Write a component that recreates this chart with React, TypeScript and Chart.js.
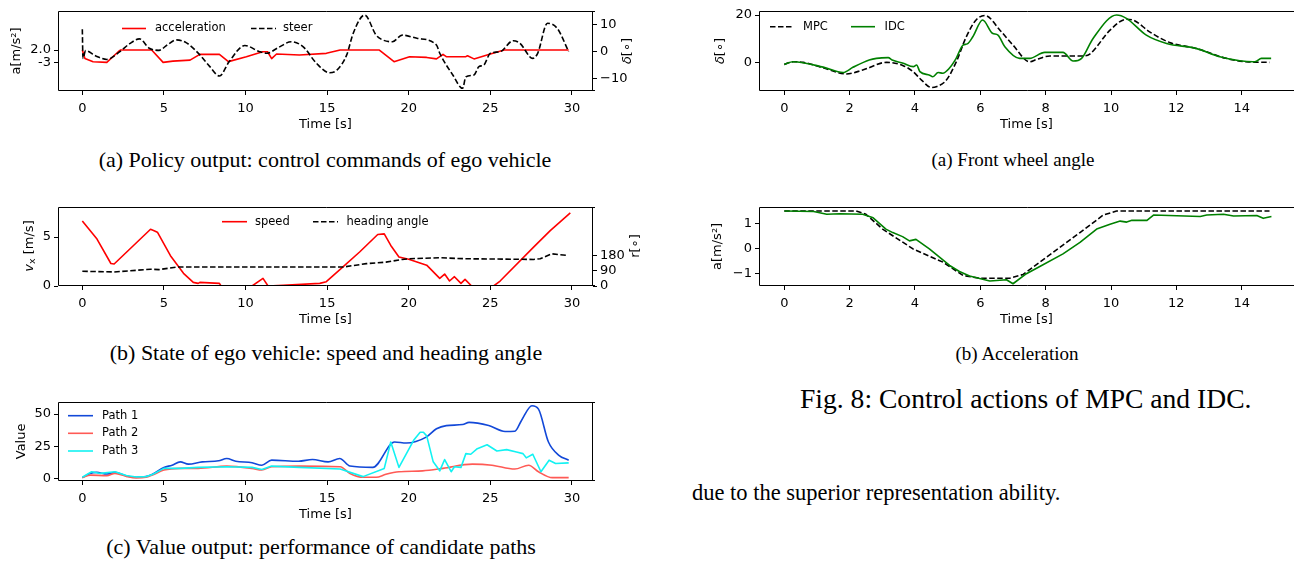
import { useEffect, useRef } from "react";
import { Chart, registerables } from "chart.js";

Chart.register(...registerables);

const SANS = "'DejaVu Sans', sans-serif";
const SERIF = "'Liberation Serif', 'Times New Roman', serif";

// ---------- (a) policy output ----------
const ACC_T = [0, 0.16, 0.66, 1.5, 2.2, 2.35, 4.25, 4.95, 5.55, 6.6, 7.2, 8.4, 8.95, 10.05, 11.05, 11.35, 11.6, 11.9, 13.3, 14.95, 15.8, 18.2, 19.1, 20.05, 21.1, 21.7, 22.1, 22.3, 23.5, 23.6, 24.0, 25.0, 25.85, 29.8];
const ACC = [2.0, -1.4, -2.75, -3.0, 1.3, 2.0, 2.0, -3.0, -2.5, -2.1, 0.25, 0.25, -2.7, -0.7, 1.3, 1.3, -1.5, 0.4, 0.0, 0.65, 2.0, 2.0, -2.75, -0.7, -1.0, -1.6, 0.25, -0.7, -0.7, -0.3, -1.6, 0.4, 2.0, 2.0];
const STEER_T = [0, 0.04, 0.2, 0.8, 1.5, 2.3, 2.9, 3.5, 4.1, 4.7, 5.2, 5.76, 6.36, 7.2, 7.8, 8.4, 9.0, 9.96, 10.86, 11.3, 12.0, 12.8, 13.52, 14.34, 15.16, 15.6, 16.2, 16.6, 17.3, 18.0, 18.4, 19.0, 19.6, 20.5, 21.7, 21.9, 22.7, 23.3, 23.5, 24.0, 24.3, 24.6, 25.0, 25.6, 26.4, 26.8, 27.6, 27.9, 28.5, 29.1, 29.8];
const STEER = [8.4, -2.5, 0.4, -1.5, -2.9, 0, 3.0, 4.8, 1.3, 0.5, 2.5, 4.4, 3.4, -1.2, -5.5, -9.1, -3.7, 2.3, 0, -0.6, 1.5, 3.7, 1.9, -4.3, -7.9, -6.9, -1.2, 6.9, 13.7, 6.2, 4.4, 3.7, 6.2, 5.0, 2.5, -0.6, -8.7, -13.7, -9.4, -8.7, -5.6, -5.0, -0.6, 0, 4.1, 3.2, -2.5, -0.6, 10.6, 8.7, 0];
const A_X_TICKS = [0, 5, 10, 15, 20, 25, 30];
const A_X_LABELS = ["0", "5", "10", "15", "20", "25", "30"];
const A_Y_TICKS = [-3, 2];
const A_Y_LABELS = ["-3", "2.0"];
const A_Y2_TICKS = [-10, 0, 10];
const A_Y2_LABELS = ["\u221210", "0", "10"];

// ---------- (b) state of ego vehicle ----------
const SPD_T = [0, 0.9, 1.75, 1.95, 4.18, 4.4, 4.6, 5.4, 6.2, 6.8, 7.1, 7.2, 8.4, 8.5, 10.4, 11.07, 11.38, 12.3, 14.55, 14.95, 15.97, 16.99, 18.1, 18.5, 18.9, 19.4, 20.0, 21.1, 21.9, 22.2, 22.5, 22.8, 23.2, 23.45, 23.85, 25.2, 25.6, 27.65, 28.67, 29.9];
const SPD = [6.65, 4.8, 2.3, 2.25, 5.8, 5.65, 5.5, 3.1, 1.3, 0.37, 0.27, 0.37, 0.27, 0, 0, 0.78, 0, 0.07, 0.27, 0.44, 1.96, 3.48, 5.27, 5.33, 4.15, 2.97, 2.73, 2.13, 0.78, 1.22, 0.51, 0.95, 0.27, 0.68, 0, 0, 0.51, 3.98, 5.67, 7.47];
const HEAD_T = [0, 1.94, 4.18, 4.7, 5.8, 14.55, 15.97, 17.4, 18.6, 19.6, 20.0, 21.9, 23.5, 27.65, 28.05, 28.77, 29.75];
const HEAD = [87, 83, 99, 97, 112, 112, 112, 132, 141, 157, 161, 167, 161, 157, 161, 190, 180];
const B_Y_TICKS = [0, 5];
const B_Y_LABELS = ["0", "5"];
const B_Y2_TICKS = [0, 90, 180];
const B_Y2_LABELS = ["0", "90", "180"];

// ---------- (c) value output ----------
const P1_T = [0, 0.47, 0.88, 1.5, 2.0, 2.7, 3.3, 3.9, 4.3, 5.0, 5.5, 6.0, 6.5, 7.35, 8.35, 8.85, 9.4, 10.4, 11.0, 11.6, 13.25, 14.1, 15.06, 15.77, 16.4, 17.8, 19.13, 19.85, 21.07, 21.7, 22.3, 23.3, 23.7, 24.9, 25.9, 26.5, 26.9, 27.55, 27.95, 28.56, 29.2, 29.8];
const P1 = [0.5, 3.8, 4.6, 3.3, 4.6, 1.8, 0.8, 1.3, 3.1, 8.4, 10.2, 12.8, 11, 12.8, 13.6, 15.4, 13.3, 12.1, 10.2, 14.1, 13.3, 14.6, 12.8, 15.4, 9.5, 8.5, 28.2, 27.4, 32, 38.5, 41, 41.8, 43.5, 41, 36.4, 36.6, 44.8, 56.4, 53.8, 28.2, 17.9, 14.1];
const P2_T = [0, 0.5, 1.5, 2.0, 2.7, 3.3, 3.9, 4.3, 5.0, 6.0, 7.1, 8.85, 10.4, 11.0, 11.6, 13.3, 15.8, 16.4, 17.2, 18.0, 18.6, 19.4, 20.85, 22.1, 23.9, 25.1, 26.5, 27.35, 27.95, 28.8, 29.8];
const P2 = [0.5, 2.5, 2.0, 3.8, 1.5, 0.3, 0.8, 2.6, 6.4, 7.7, 7.7, 9.5, 7.7, 6.4, 9, 9.5, 9, 3.8, 0.8, 0.8, 3.1, 5.1, 5.8, 7.7, 11, 10.2, 7.2, 10.2, 5.1, 0.5, 0.5];
const P3_T = [0, 0.57, 1.1, 2.0, 2.7, 3.3, 3.9, 4.3, 5.0, 6.0, 7.1, 8.85, 10.4, 11.0, 11.6, 13.3, 15.8, 17.2, 18.5, 18.9, 19.4, 20.3, 20.7, 20.9, 21.1, 21.5, 21.9, 22.2, 22.6, 22.8, 23.2, 23.5, 23.8, 24.2, 24.8, 25.4, 26.0, 26.6, 27.0, 27.2, 27.6, 28.1, 28.6, 29.0, 29.8];
const P3 = [0.8, 5.1, 3.8, 5.1, 2.2, 1.0, 1.3, 3.0, 7.7, 7.7, 8.5, 9, 8.5, 6.9, 9.5, 8.5, 7.2, 1.3, 7.7, 28.2, 8.5, 29.5, 35.8, 35.8, 33, 12.8, 5.8, 14.6, 5.1, 9, 8.5, 19.2, 18.7, 23, 26.1, 21.2, 22.3, 20.5, 19.2, 15.9, 18.7, 5.1, 14.1, 11.5, 12];
const C_Y_TICKS = [0, 25, 50];
const C_Y_LABELS = ["0", "25", "50"];

// ---------- Fig. 8 (a) front wheel angle ----------
const MPC_D_T = [0, 0.27, 0.58, 1.19, 1.9, 2.4, 3.13, 3.64, 3.94, 4.2, 4.5, 4.65, 4.96, 5.26, 5.57, 5.87, 6.15, 6.6, 7.0, 7.51, 7.72, 8.13, 9.15, 9.35, 9.97, 10.47, 10.67, 11.18, 11.79, 12.6, 13.52, 14.13, 14.85];
const MPC_D = [-0.85, 0.25, 0, -2.3, -4.9, -3.25, 0, -1.4, -3.9, -7.5, -10.6, -10.3, -7.5, 0.1, 10.8, 17.9, 19.8, 13.6, 7.3, 0.25, 1.2, 2.7, 2.7, 3.5, 13.6, 18.2, 17.9, 12.9, 8.4, 5.9, 1.7, 0.25, 0];
const IDC_D_T = [0, 0.27, 1.19, 1.8, 2.1, 2.6, 2.82, 3.18, 3.3, 3.64, 3.95, 4.05, 4.15, 4.45, 4.54, 4.71, 4.85, 5.05, 5.26, 5.47, 5.6, 5.77, 6.07, 6.37, 6.54, 6.75, 7.2, 7.51, 7.97, 8.53, 8.84, 9.1, 9.45, 10.17, 10.47, 11.08, 11.7, 12.6, 13.33, 13.94, 14.35, 14.45, 14.6, 14.9];
const IDC_D = [-0.85, 0.25, -2.0, -4.3, -2.1, 1.0, 1.7, 2.0, 1.0, -0.4, -1.8, -1.1, -3.9, -5.4, -6.1, -4.3, -4.6, -2.5, 1.7, 7.3, 7.8, 10.8, 17.9, 12.3, 11.5, 6.6, 1.7, 1.7, 4.2, 4.2, 0.55, 1.7, 10.1, 20, 18.6, 11.5, 8, 5.9, 2.4, 0.7, 0.25, 0.5, 1.7, 1.7];
const R_X_TICKS = [0, 2, 4, 6, 8, 10, 12, 14];
const R_X_LABELS = ["0", "2", "4", "6", "8", "10", "12", "14"];
const D_Y_TICKS = [0, 20];
const D_Y_LABELS = ["0", "20"];

// ---------- Fig. 8 (b) acceleration ----------
const MPC_A_T = [0, 2.2, 2.5, 3.01, 3.94, 4.86, 5.47, 5.98, 6.9, 7.31, 8.03, 9.05, 9.76, 10.17, 14.85];
const MPC_A = [1.49, 1.49, 1.36, 0.77, -0.02, -0.55, -1.08, -1.19, -1.19, -1.04, -0.35, 0.63, 1.33, 1.49, 1.49];
const IDC_A_T = [0, 0.9, 1.3, 1.7, 2.4, 2.72, 3.11, 3.32, 3.62, 3.83, 4.03, 4.44, 5.06, 5.36, 5.67, 5.98, 6.29, 6.8, 7.0, 7.41, 7.82, 8.53, 9.05, 9.56, 9.97, 10.28, 10.48, 10.64, 11.1, 11.3, 12.73, 12.93, 13.44, 13.75, 14.46, 14.66, 14.91];
const IDC_A = [1.49, 1.47, 1.36, 1.38, 1.36, 1.22, 0.77, 0.63, 0.47, 0.3, 0.36, -0.02, -0.68, -0.92, -1.1, -1.2, -1.3, -1.25, -1.41, -1.01, -0.72, -0.22, 0.24, 0.77, 0.96, 1.09, 1.05, 1.12, 1.12, 1.33, 1.27, 1.33, 1.36, 1.29, 1.31, 1.2, 1.27];
const E_Y_TICKS = [-1, 0, 1];
const E_Y_LABELS = ["\u22121", "0", "1"];

const pts = (xs: number[], ys: number[]) => xs.map((x, i) => ({ x, y: ys[i] }));

type Axis = { min: number; max: number; ticks: number[]; labels: string[]; title?: string; size: number };
type Seg = { t: string; italic?: boolean; sub?: boolean };
type RotTitle = { segs: Seg[]; x: number; y: number };
type Spec = {
  left: number; top: number; width: number; height: number;
  pad: { left: number; right: number; top: number; bottom: number };
  x: Axis; y: Axis; y2?: Axis;
  datasets: any[];
  legend: { ds: number; x1: number; x2: number; tx: number; y: number }[];
  rotTitles: RotTitle[];
  frameRight: boolean;
};

const line = (label: string, xs: number[], ys: number[], color: string, opts: any = {}) => ({
  label,
  data: pts(xs, ys),
  borderColor: color,
  backgroundColor: color,
  borderWidth: 1.6,
  pointRadius: 0,
  fill: false,
  borderJoinStyle: "round",
  tension: 0,
  ...opts,
});

const DASH = [5.5, 2.5];
const SMOOTH = { cubicInterpolationMode: "monotone" };

const SPECS: Spec[] = [
  {
    left: 9, top: 0, width: 631, height: 132,
    pad: { left: 0, right: 0, top: 11, bottom: 0 },
    x: { min: -1.49, max: 31.29, ticks: A_X_TICKS, labels: A_X_LABELS, title: "Time [s]", size: 41 },
    y: { min: -14.6, max: 17.8, ticks: A_Y_TICKS, labels: A_Y_LABELS, title: "a[m/s\u00b2]", size: 49 },
    y2: { min: -14.7, max: 15.2, ticks: A_Y2_TICKS, labels: A_Y2_LABELS, size: 47 },
    datasets: [
      line("acceleration", ACC_T, ACC, "#ff0000", { yAxisID: "y", order: 1 }),
      line("steer", STEER_T, STEER, "#000000", { yAxisID: "y2", order: 0, borderDash: DASH, ...SMOOTH }),
    ],
    legend: [
      { ds: 0, x1: 122, x2: 146, tx: 155, y: 28.5 },
      { ds: 1, x1: 251, x2: 276, tx: 283, y: 28.5 },
    ],
    rotTitles: [{ segs: [{ t: "\u03b4", italic: true }, { t: "[\u2218]" }], x: 628, y: 51 }],
    frameRight: true,
  },
  {
    left: 22, top: 196, width: 623, height: 131,
    pad: { left: 0, right: 0, top: 10, bottom: 0 },
    x: { min: -1.49, max: 31.29, ticks: A_X_TICKS, labels: A_X_LABELS, title: "Time [s]", size: 41 },
    y: { min: 0, max: 8.1, ticks: B_Y_TICKS, labels: B_Y_LABELS, size: 36 },
    y2: { min: 0, max: 468, ticks: B_Y2_TICKS, labels: B_Y2_LABELS, size: 52 },
    datasets: [
      line("speed", SPD_T, SPD, "#ff0000", { yAxisID: "y", order: 1 }),
      line("heading angle", HEAD_T, HEAD, "#000000", { yAxisID: "y2", order: 0, borderDash: DASH }),
    ],
    legend: [
      { ds: 0, x1: 222, x2: 247, tx: 255, y: 221.7 },
      { ds: 1, x1: 313, x2: 338, tx: 346.5, y: 221.7 },
    ],
    rotTitles: [
      { segs: [{ t: "v", italic: true }, { t: "x", sub: true }, { t: " [m/s]" }], x: 29.5, y: 246 },
      { segs: [{ t: "r" }, { t: "[\u2218]" }], x: 636, y: 246 },
    ],
    frameRight: true,
  },
  {
    left: 14, top: 391, width: 586, height: 131,
    pad: { left: 0, right: 7, top: 10, bottom: 0 },
    x: { min: -1.49, max: 31.29, ticks: A_X_TICKS, labels: A_X_LABELS, title: "Time [s]", size: 41 },
    y: { min: -2.1, max: 59.5, ticks: C_Y_TICKS, labels: C_Y_LABELS, title: "Value", size: 44 },
    datasets: [
      line("Path 1", P1_T, P1, "#1248d8", { order: 2, ...SMOOTH }),
      line("Path 2", P2_T, P2, "#ff5a55", { order: 1, ...SMOOTH }),
      line("Path 3", P3_T, P3, "#12f2f2", { order: 0 }),
    ],
    legend: [
      { ds: 0, x1: 68, x2: 93, tx: 102, y: 415.7 },
      { ds: 1, x1: 68, x2: 93, tx: 102, y: 433.3 },
      { ds: 2, x1: 68, x2: 93, tx: 102, y: 451 },
    ],
    rotTitles: [],
    frameRight: true,
  },
  {
    left: 713, top: 0, width: 581, height: 132,
    pad: { left: 0, right: 0, top: 11, bottom: 0 },
    x: { min: -0.774, max: 15.6, ticks: R_X_TICKS, labels: R_X_LABELS, title: "Time [s]", size: 41 },
    y: { min: -12.1, max: 21.7, ticks: D_Y_TICKS, labels: D_Y_LABELS, size: 46 },
    datasets: [
      line("MPC", MPC_D_T, MPC_D, "#000000", { order: 1, borderDash: DASH, ...SMOOTH }),
      line("IDC", IDC_D_T, IDC_D, "#008000", { order: 0, ...SMOOTH }),
    ],
    legend: [
      { ds: 0, x1: 770, x2: 794, tx: 803, y: 26.7 },
      { ds: 1, x1: 851, x2: 875, tx: 884.5, y: 26.7 },
    ],
    rotTitles: [{ segs: [{ t: "\u03b4", italic: true }, { t: "[\u2218]" }], x: 721, y: 51 }],
    frameRight: false,
  },
  {
    left: 710, top: 196, width: 584, height: 131,
    pad: { left: 0, right: 0, top: 10, bottom: 0 },
    x: { min: -0.774, max: 15.6, ticks: R_X_TICKS, labels: R_X_LABELS, title: "Time [s]", size: 41 },
    y: { min: -1.5, max: 1.66, ticks: E_Y_TICKS, labels: E_Y_LABELS, title: "a[m/s\u00b2]", size: 49 },
    datasets: [
      line("MPC", MPC_A_T, MPC_A, "#000000", { order: 1, borderDash: DASH }),
      line("IDC", IDC_A_T, IDC_A, "#008000", { order: 0 }),
    ],
    legend: [],
    rotTitles: [],
    frameRight: false,
  },
];

const CAPTIONS = [
  { text: "(a) Policy output: control commands of ego vehicle", cx: 325, base: 167, size: 22 },
  { text: "(b) State of ego vehicle: speed and heading angle", cx: 326, base: 360.5, size: 22 },
  { text: "(c) Value output: performance of candidate paths", cx: 321, base: 554.5, size: 22 },
  { text: "(a) Front wheel angle", cx: 1013, base: 165.5, size: 19 },
  { text: "(b) Acceleration", cx: 1017, base: 360, size: 19 },
];
const BODY_TEXTS = [
  { text: "Fig. 8: Control actions of MPC and IDC.", x: 800, base: 408, size: 27.6 },
  { text: "due to the superior representation ability.", x: 692, base: 500.5, size: 22.5 },
];

const tickFont = { family: SANS, size: 13 };

function axisCfg(a: Axis, position: string) {
  const horiz = position === "bottom";
  return {
    type: "linear",
    position,
    min: a.min,
    max: a.max,
    afterBuildTicks: (s: any) => {
      s.ticks = a.ticks.map((v) => ({ value: v }));
    },
    afterFit: (s: any) => {
      if (horiz) s.height = a.size;
      else s.width = a.size;
    },
    ticks: {
      callback: (_v: any, i: number) => a.labels[i],
      font: tickFont,
      color: "#000",
      padding: horiz ? 5.5 : 3,
      maxRotation: 0,
      autoSkip: false,
    },
    grid: { display: true, drawOnChartArea: false, drawTicks: true, tickLength: 4, tickColor: "#000", tickWidth: 1 },
    border: { display: false },
    title: a.title
      ? { display: true, text: a.title, font: tickFont, color: "#000", padding: 0 }
      : { display: false },
  };
}

function overlay(spec: Spec) {
  return {
    id: "mplOverlay",
    afterDraw(chart: any) {
      const { ctx, chartArea: a } = chart;
      ctx.save();
      // frame
      ctx.strokeStyle = "#000";
      ctx.lineWidth = 1;
      ctx.setLineDash([]);
      const l = Math.round(a.left) + 0.5;
      const r = Math.round(a.right) - 0.5;
      const t = Math.round(a.top) + 0.5;
      const b = Math.round(a.bottom) - 0.5;
      ctx.beginPath();
      if (spec.frameRight) {
        ctx.moveTo(r, t); ctx.lineTo(r, b);
      }
      ctx.moveTo(l, t); ctx.lineTo(a.right + 2, t);
      ctx.moveTo(l, t); ctx.lineTo(l, b);
      ctx.moveTo(l, b); ctx.lineTo(a.right + 2, b);
      ctx.stroke();
      // legend
      for (const it of spec.legend) {
        const ds = chart.data.datasets[it.ds];
        const y = it.y - spec.top;
        ctx.strokeStyle = ds.borderColor;
        ctx.lineWidth = ds.borderWidth;
        ctx.setLineDash(ds.borderDash || []);
        ctx.beginPath();
        ctx.moveTo(it.x1 - spec.left, y);
        ctx.lineTo(it.x2 - spec.left, y);
        ctx.stroke();
        ctx.setLineDash([]);
        ctx.fillStyle = "#000";
        ctx.font = `11.5px ${SANS}`;
        ctx.textBaseline = "middle";
        ctx.textAlign = "left";
        ctx.fillText(ds.label, it.tx - spec.left, y);
      }
      // rotated axis titles (read bottom to top, like matplotlib)
      for (const rt of spec.rotTitles) {
        ctx.save();
        ctx.translate(rt.x - spec.left, rt.y - spec.top);
        ctx.rotate(-Math.PI / 2);
        const fonts = rt.segs.map((s) => `${s.italic ? "italic " : ""}${s.sub ? 9.5 : 13}px ${SANS}`);
        let total = 0;
        rt.segs.forEach((s, i) => {
          ctx.font = fonts[i];
          total += ctx.measureText(s.t).width;
        });
        let cx = -total / 2;
        ctx.fillStyle = "#000";
        ctx.textBaseline = "middle";
        ctx.textAlign = "left";
        rt.segs.forEach((s, i) => {
          ctx.font = fonts[i];
          ctx.fillText(s.t, cx, s.sub ? 3 : 0);
          cx += ctx.measureText(s.t).width;
        });
        ctx.restore();
      }
      ctx.restore();
    },
  };
}

function buildConfig(spec: Spec): any {
  const scales: any = { x: axisCfg(spec.x, "bottom"), y: axisCfg(spec.y, "left") };
  if (spec.y2) scales.y2 = axisCfg(spec.y2, "right");
  return {
    type: "line",
    data: { datasets: spec.datasets },
    options: {
      responsive: false,
      animation: false,
      events: [],
      parsing: true,
      layout: { padding: spec.pad },
      plugins: { legend: { display: false }, tooltip: { enabled: false }, title: { display: false } },
      scales,
    },
    plugins: [overlay(spec)],
  };
}

function Plot({ spec }: { spec: Spec }) {
  const ref = useRef<HTMLCanvasElement>(null);
  useEffect(() => {
    const chart = new Chart(ref.current as HTMLCanvasElement, buildConfig(spec));
    return () => chart.destroy();
  }, [spec]);
  return (
    <canvas
      ref={ref}
      width={spec.width}
      height={spec.height}
      style={{ position: "absolute", left: spec.left, top: spec.top, width: spec.width, height: spec.height }}
    />
  );
}

export default function App() {
  return (
    <div
      style={{
        position: "absolute",
        left: 0,
        top: 0,
        width: 1294,
        height: 561,
        overflow: "hidden",
        background: "#fff",
      }}
    >
      {SPECS.map((s, i) => (
        <Plot key={i} spec={s} />
      ))}
      {CAPTIONS.map((c, i) => (
        <div
          key={"c" + i}
          style={{
            position: "absolute",
            left: c.cx - 320,
            width: 640,
            top: c.base - 0.8375 * c.size,
            fontFamily: SERIF,
            fontSize: c.size,
            lineHeight: `${c.size}px`,
            textAlign: "center",
            color: "#000",
            whiteSpace: "nowrap",
          }}
        >
          {c.text}
        </div>
      ))}
      {BODY_TEXTS.map((c, i) => (
        <div
          key={"b" + i}
          style={{
            position: "absolute",
            left: c.x,
            top: c.base - 0.8375 * c.size,
            fontFamily: SERIF,
            fontSize: c.size,
            lineHeight: `${c.size}px`,
            color: "#000",
            whiteSpace: "nowrap",
          }}
        >
          {c.text}
        </div>
      ))}
    </div>
  );
}
